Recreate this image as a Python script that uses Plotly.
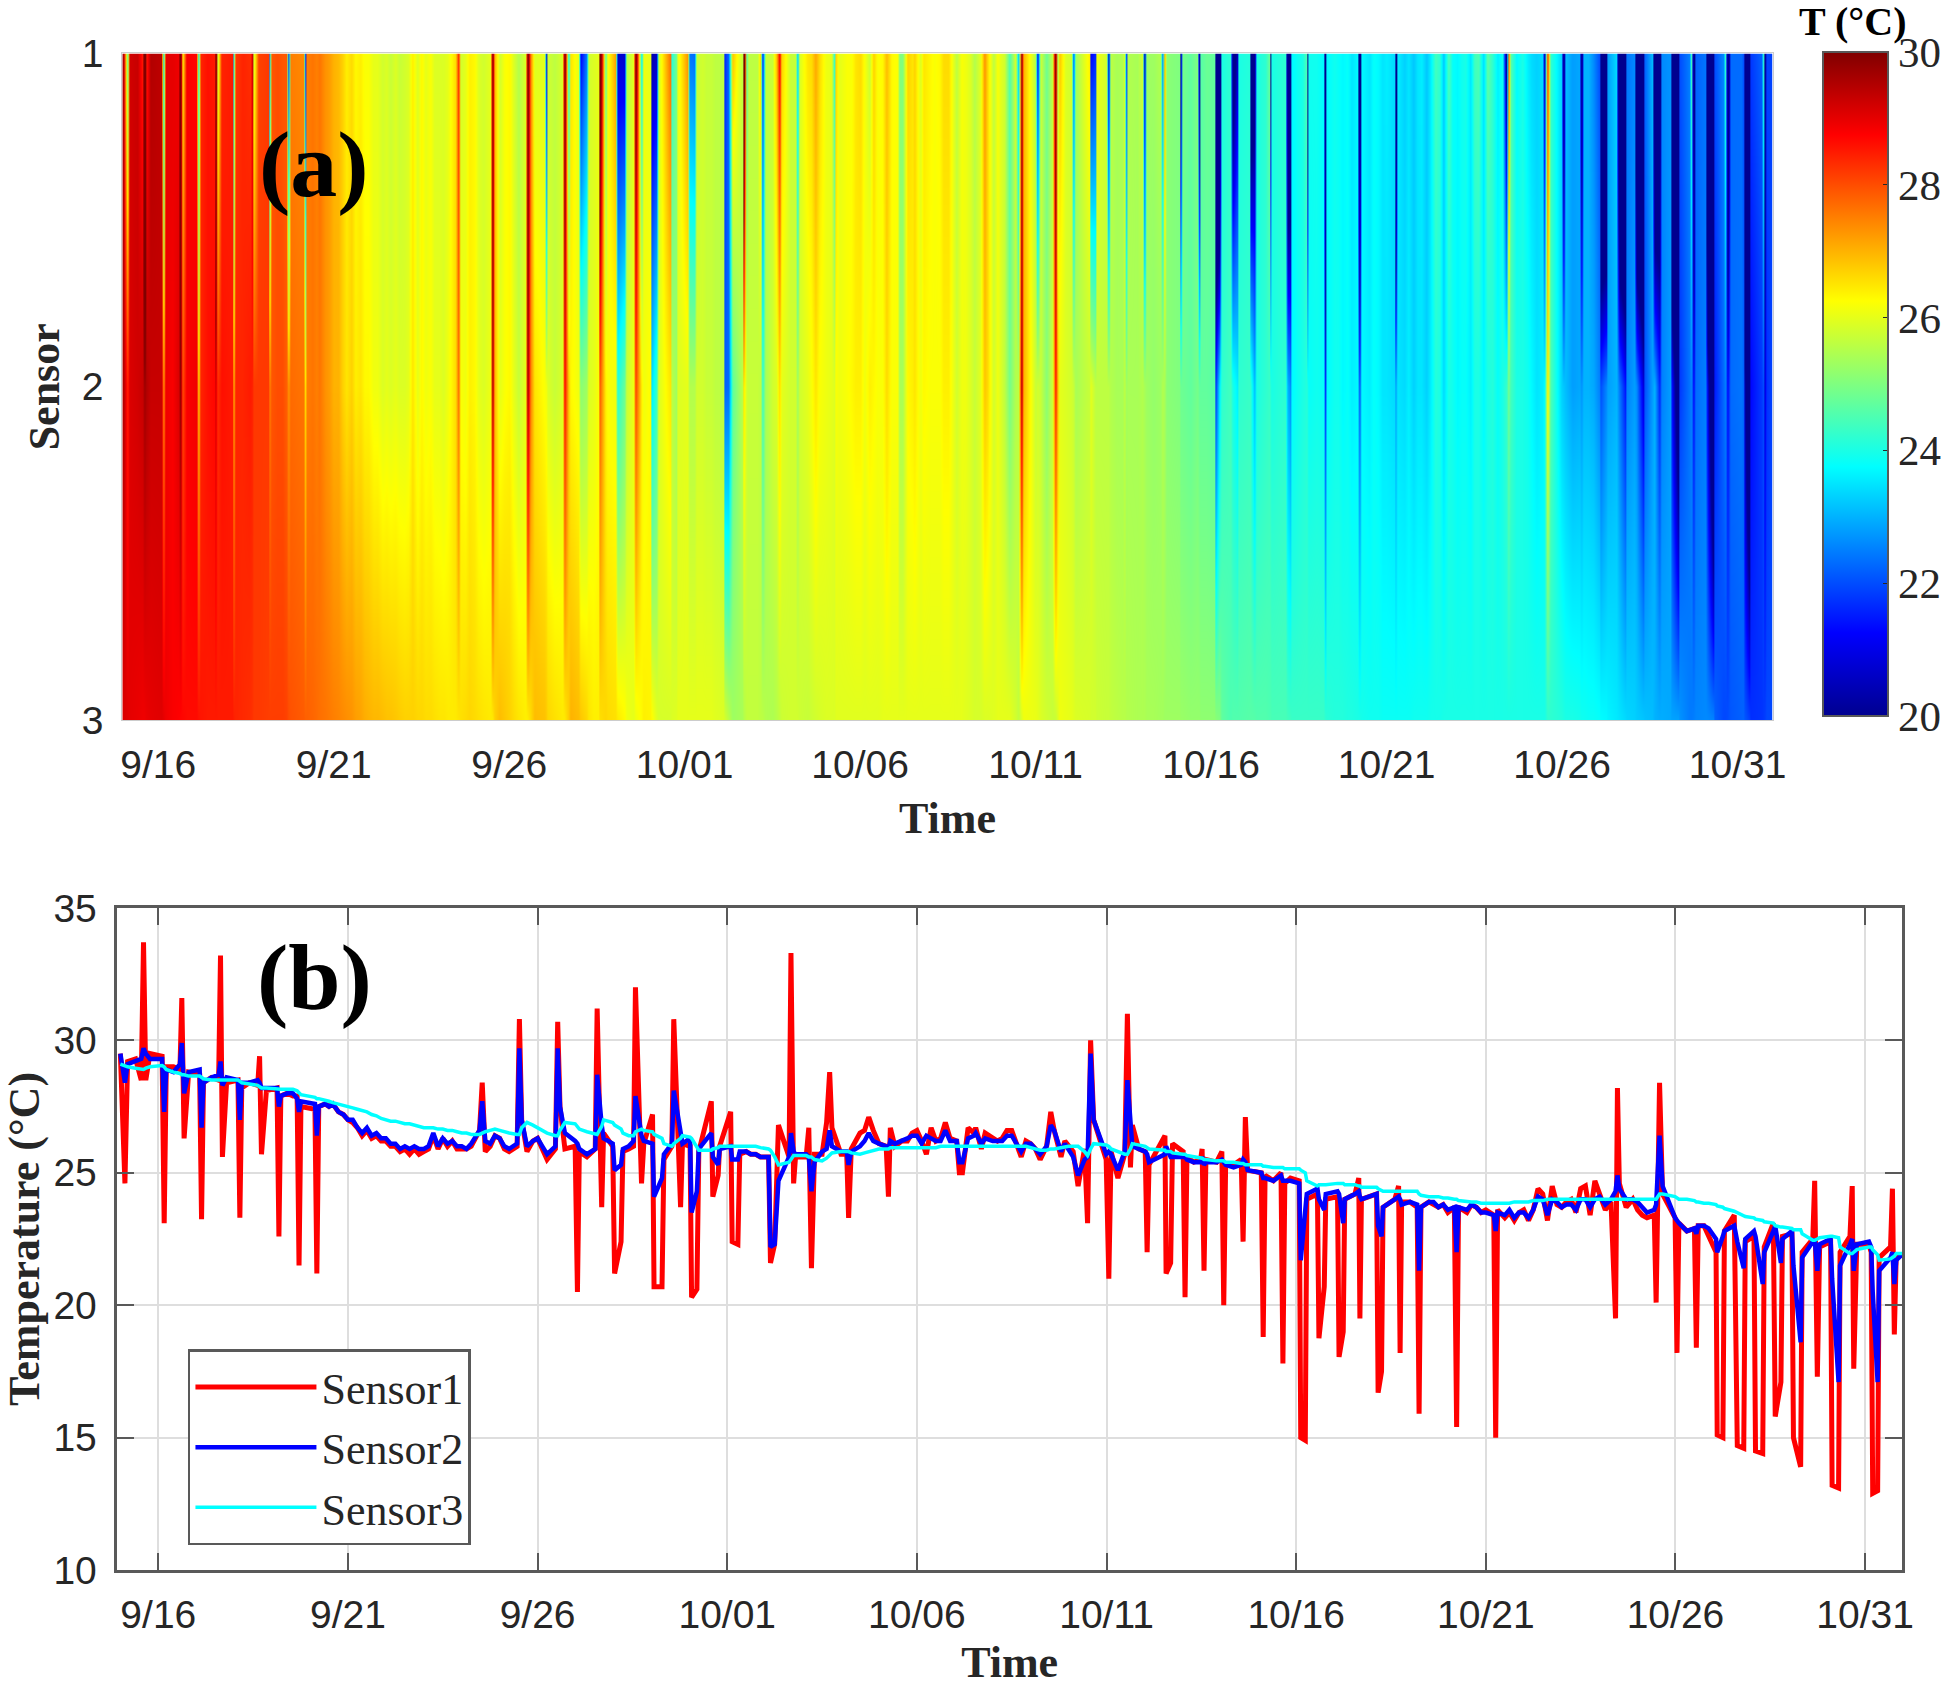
import pandas as pd
import plotly.graph_objects as go

# reading times in days after 9/15 00:00, one line of 8 per day, packed around the dips and spikes
time_days = [
    0.00, 0.12, 0.19, 0.40, 0.55, 0.61, 0.67, 0.78,
    1.10, 1.155, 1.21, 1.40, 1.57, 1.62, 1.68, 1.80,
    2.09, 2.14, 2.19, 2.40, 2.59, 2.64, 2.69, 2.80,
    3.10, 3.15, 3.20, 3.40, 3.62, 3.67, 3.72, 3.85,
    4.13, 4.18, 4.23, 4.40, 4.55, 4.66, 4.71, 4.76,
    5.13, 5.18, 5.23, 5.40, 5.50, 5.60, 5.75, 5.88,
    6.00, 6.125, 6.25, 6.375, 6.50, 6.625, 6.75, 6.875,
    7.00, 7.125, 7.25, 7.375, 7.50, 7.625, 7.75, 7.875,
    8.00, 8.125, 8.25, 8.375, 8.50, 8.625, 8.75, 8.875,
    9.00, 9.125, 9.25, 9.47, 9.54, 9.62, 9.75, 9.875,
    10.00, 10.125, 10.25, 10.46, 10.52, 10.58, 10.72, 10.875,
    11.00, 11.125, 11.25, 11.47, 11.53, 11.59, 11.72, 11.99,
    12.05, 12.10, 12.30, 12.52, 12.57, 12.69, 12.74, 12.98,
    13.03, 13.20, 13.25, 13.40, 13.53, 13.58, 13.74, 13.80,
    14.03, 14.07, 14.28, 14.33, 14.54, 14.59, 14.77, 14.82,
    15.02, 15.06, 15.20, 15.25, 15.58, 15.62, 15.76, 15.80,
    16.09, 16.13, 16.28, 16.33, 16.50, 16.62, 16.75, 16.875,
    17.09, 17.14, 17.25, 17.35, 17.63, 17.68, 17.75, 17.80,
    18.08, 18.15, 18.22, 18.30, 18.50, 18.62, 18.70, 18.76,
    19.00, 19.15, 19.20, 19.27, 19.50, 19.62, 19.73, 19.85,
    20.00, 20.19, 20.25, 20.30, 20.42, 20.60, 20.75, 20.875,
    21.00, 21.125, 21.25, 21.375, 21.50, 21.625, 21.75, 21.875,
    22.05, 22.12, 22.20, 22.35, 22.50, 22.55, 22.70, 22.80,
    23.00, 23.125, 23.25, 23.375, 23.50, 23.625, 23.75, 23.875,
    24.00, 24.125, 24.25, 24.42, 24.53, 24.62, 24.80, 24.90,
    25.00, 25.12, 25.25, 25.42, 25.50, 25.58, 25.66, 25.99,
    26.06, 26.12, 26.30, 26.48, 26.55, 26.63, 26.68, 26.85,
    27.02, 27.07, 27.12, 27.54, 27.57, 27.69, 27.74, 28.02,
    28.07, 28.12, 28.30, 28.48, 28.52, 28.57, 28.62, 28.90,
    29.04, 29.09, 29.14, 29.35, 29.55, 29.60, 29.66, 29.72,
    30.08, 30.13, 30.18, 30.40, 30.60, 30.65, 30.70, 30.85,
    31.08, 31.12, 31.24, 31.28, 31.56, 31.60, 31.74, 31.78,
    32.09, 32.13, 32.24, 32.28, 32.55, 32.65, 32.68, 32.72,
    33.12, 33.16, 33.25, 33.29, 33.60, 33.70, 33.74, 33.78,
    34.00, 34.19, 34.24, 34.29, 34.50, 34.62, 34.75, 34.875,
    35.00, 35.17, 35.23, 35.28, 35.50, 35.62, 35.75, 35.875,
    36.00, 36.21, 36.26, 36.31, 36.50, 36.62, 36.75, 36.875,
    37.00, 37.125, 37.25, 37.375, 37.50, 37.625, 37.75, 37.875,
    38.00, 38.125, 38.25, 38.375, 38.50, 38.625, 38.75, 38.875,
    39.00, 39.15, 39.30, 39.42, 39.47, 39.52, 39.70, 39.875,
    40.00, 40.125, 40.25, 40.44, 40.49, 40.58, 40.66, 40.99,
    41.04, 41.09, 41.30, 41.50, 41.55, 41.60, 41.75, 41.875,
    42.07, 42.10, 42.25, 42.29, 42.55, 42.63, 42.80, 42.84,
    43.07, 43.11, 43.30, 43.34, 43.58, 43.63, 43.78, 43.82,
    44.07, 44.11, 44.30, 44.34, 44.62, 44.67, 44.74, 44.80,
    45.09, 45.13, 45.30, 45.34, 45.60, 45.66, 45.70, 45.78,
    46.10, 46.16, 46.20, 46.33, 46.37, 46.67, 46.72, 46.77, 46.82,
    47.00,
]

sensor1 = [
    29.5, 24.6, 29.2, 29.3, 28.5, 33.7, 28.5, 29.5,
    29.4, 23.1, 29.0, 29.0, 28.9, 31.6, 26.3, 28.8,
    28.7, 23.25, 28.4, 28.6, 28.5, 33.2, 25.6, 28.4,
    28.5, 23.3, 28.2, 28.4, 28.3, 29.4, 25.7, 28.1,
    28.2, 22.6, 27.9, 28.0, 27.9, 27.9, 21.5, 27.5,
    27.4, 21.2, 27.5, 27.6, 27.5, 27.6, 27.3, 27.2,
    27.0, 26.9, 26.7, 26.4, 26.6, 26.3, 26.4, 26.2,
    26.2, 26.0, 26.0, 25.8, 25.9, 25.7, 25.9, 25.7,
    25.8, 25.9, 26.4, 25.9, 26.3, 26.0, 26.2, 25.9,
    25.9, 25.9, 26.0, 26.6, 28.4, 25.8, 26.0, 26.4,
    26.3, 25.9, 25.8, 26.0, 30.8, 27.0, 25.8, 26.2,
    26.3, 25.9, 25.5, 25.9, 30.7, 27.5, 25.9, 26.0,
    20.5, 25.8, 25.6, 25.9, 31.2, 23.7, 26.5, 26.0,
    21.2, 22.4, 25.8, 25.9, 26.0, 32.0, 24.6, 26.1,
    27.2, 20.7, 20.7, 25.5, 26.0, 30.8, 23.7, 26.1,
    26.0, 20.3, 20.6, 25.8, 27.7, 24.1, 24.9, 26.0,
    27.3, 22.4, 22.3, 25.7, 25.8, 25.7, 25.7, 25.6,
    25.6, 21.6, 22.3, 26.8, 25.6, 33.3, 24.6, 25.6,
    25.6, 26.7, 21.4, 25.7, 25.7, 26.9, 28.8, 26.7,
    25.7, 25.7, 23.3, 25.9, 26.5, 26.6, 27.1, 26.6,
    26.1, 26.0, 24.1, 26.7, 26.0, 26.2, 26.2, 26.5,
    26.6, 26.2, 25.7, 26.7, 26.2, 26.3, 26.9, 26.3,
    26.2, 25.0, 25.0, 26.7, 26.5, 26.7, 25.9, 26.5,
    26.3, 26.2, 26.3, 26.6, 26.6, 26.1, 25.6, 26.2,
    26.1, 25.9, 25.5, 26.0, 27.3, 26.6, 25.6, 26.2,
    26.0, 25.8, 24.5, 25.9, 23.1, 30.0, 27.0, 25.5,
    21.0, 25.8, 24.8, 25.7, 31.0, 25.2, 26.8, 25.9,
    25.8, 22.0, 25.3, 26.4, 21.2, 21.6, 26.1, 25.8,
    20.3, 25.6, 25.4, 25.5, 25.9, 21.3, 25.5, 25.4,
    25.8, 20.0, 25.3, 25.3, 25.5, 22.4, 27.1, 25.1,
    25.0, 18.8, 24.9, 24.7, 25.0, 17.8, 24.6, 24.8,
    24.7, 15.0, 14.9, 24.0, 24.2, 18.75, 20.7, 24.0,
    24.1, 18.05, 19.0, 24.0, 24.2, 24.8, 19.5, 24.0,
    24.2, 16.7, 17.5, 23.7, 24.0, 24.5, 18.2, 23.9,
    23.9, 23.7, 15.9, 23.7, 23.9, 23.8, 23.7, 23.8,
    23.5, 23.7, 15.4, 23.7, 23.5, 23.8, 23.7, 23.5,
    23.6, 23.4, 15.0, 23.6, 23.3, 23.5, 23.2, 23.5,
    23.6, 23.2, 23.6, 24.4, 24.2, 23.2, 24.5, 23.8,
    23.7, 23.9, 24.0, 23.5, 24.4, 24.5, 23.4, 24.7,
    24.2, 23.6, 23.9, 19.5, 28.2, 24.6, 23.7, 24.0,
    23.6, 23.4, 23.3, 23.4, 20.1, 28.4, 24.2, 23.3,
    18.2, 23.1, 22.8, 22.9, 18.4, 23.0, 23.0, 22.6,
    22.0, 15.1, 15.0, 22.8, 23.4, 14.7, 14.6, 22.4,
    22.6, 14.5, 14.4, 22.2, 23.1, 15.8, 17.1, 22.6,
    22.7, 15.0, 13.9, 22.0, 22.5, 24.7, 17.3, 22.2,
    22.4, 13.2, 13.1, 22.0, 22.6, 24.5, 17.6, 22.3,
    22.3, 22.0, 12.9, 13.0, 21.8, 22.2, 24.4, 18.9, 21.9,
    21.9,
]

sensor2 = [
    29.5, 28.4, 29.1, 29.2, 29.3, 29.7, 29.5, 29.3,
    29.3, 27.3, 28.9, 28.8, 29.1, 29.9, 28.0, 28.8,
    28.9, 26.7, 28.4, 28.6, 28.7, 29.2, 28.3, 28.6,
    28.5, 27.0, 28.4, 28.4, 28.5, 28.4, 28.2, 28.2,
    28.2, 27.5, 27.9, 28.0, 28.0, 27.8, 27.3, 27.7,
    27.6, 26.4, 27.5, 27.6, 27.5, 27.6, 27.3, 27.2,
    27.0, 27.0, 26.7, 26.5, 26.7, 26.4, 26.5, 26.3,
    26.3, 26.1, 26.1, 25.9, 26.0, 25.9, 26.0, 25.9,
    25.9, 26.0, 26.5, 26.0, 26.3, 26.1, 26.2, 26.0,
    26.0, 25.9, 26.1, 26.6, 27.7, 26.2, 26.1, 26.4,
    26.3, 26.0, 25.9, 26.1, 29.7, 27.0, 26.0, 26.2,
    26.3, 26.0, 25.7, 26.0, 29.7, 27.5, 26.5, 26.2,
    26.1, 25.9, 25.7, 25.9, 28.7, 26.8, 26.3, 26.1,
    25.1, 25.3, 25.9, 26.0, 26.2, 27.9, 26.4, 26.2,
    26.1, 24.1, 24.8, 25.7, 26.1, 28.1, 26.4, 26.1,
    26.3, 23.5, 24.3, 25.9, 26.5, 25.6, 25.3, 25.9,
    26.0, 25.5, 25.5, 25.8, 25.8, 25.7, 25.7, 25.6,
    25.6, 22.2, 22.3, 24.7, 25.6, 26.5, 25.8, 25.7,
    25.7, 25.6, 24.3, 25.4, 25.8, 25.9, 26.6, 26.0,
    25.8, 25.8, 25.3, 25.8, 26.0, 26.2, 26.5, 26.2,
    26.1, 26.0, 25.9, 26.2, 26.1, 26.2, 26.3, 26.4,
    26.4, 26.1, 26.4, 26.3, 26.2, 26.2, 26.6, 26.2,
    26.2, 25.4, 25.4, 26.3, 26.4, 26.5, 26.1, 26.3,
    26.2, 26.2, 26.2, 26.4, 26.4, 26.1, 25.8, 26.1,
    26.1, 25.9, 25.7, 26.0, 26.8, 26.6, 25.8, 26.1,
    25.9, 25.6, 24.9, 25.5, 25.6, 29.5, 27.0, 25.7,
    25.8, 25.7, 25.1, 25.8, 28.5, 27.0, 26.0, 25.9,
    25.8, 25.7, 25.4, 25.7, 26.0, 25.6, 25.6, 25.6,
    25.6, 25.5, 25.4, 25.4, 25.6, 25.3, 25.4, 25.4,
    25.5, 25.4, 25.3, 25.2, 25.3, 25.5, 25.4, 25.1,
    25.0, 24.8, 24.8, 24.7, 24.9, 24.7, 24.7, 24.7,
    24.6, 21.7, 23.6, 24.2, 24.4, 24.0, 23.6, 24.2,
    24.3, 24.2, 23.1, 24.0, 24.2, 24.3, 24.1, 24.0,
    24.2, 23.0, 22.6, 23.7, 24.0, 24.1, 24.0, 23.8,
    23.9, 23.8, 21.3, 23.7, 23.9, 23.9, 23.7, 23.8,
    23.6, 23.7, 22.0, 23.7, 23.6, 23.8, 23.7, 23.5,
    23.5, 23.4, 22.8, 23.5, 23.4, 23.6, 23.3, 23.5,
    23.5, 23.3, 23.6, 24.1, 24.0, 23.4, 24.0, 23.9,
    23.7, 23.8, 23.8, 23.6, 24.0, 24.0, 23.7, 24.0,
    24.1, 23.8, 24.0, 24.3, 24.9, 24.4, 24.0, 24.0,
    23.9, 23.7, 23.5, 23.6, 23.8, 26.4, 24.5, 23.3,
    23.2, 23.1, 22.8, 22.9, 22.7, 23.0, 23.0, 22.9,
    22.5, 22.0, 22.6, 22.8, 23.0, 22.4, 21.4, 22.5,
    22.8, 22.6, 20.8, 22.0, 22.8, 23.0, 21.6, 22.5,
    22.8, 21.5, 18.6, 21.8, 22.4, 22.5, 21.3, 22.3,
    22.5, 21.0, 17.1, 21.5, 22.3, 22.5, 21.3, 22.3,
    22.4, 22.2, 20.5, 17.1, 21.3, 21.8, 22.0, 20.8, 21.7,
    21.95,
]

sensor3 = [
    29.1, 29.05, 29.0, 28.95, 28.9, 28.9, 28.95, 29.0,
    29.05, 29.0, 28.9, 28.8, 28.75, 28.7, 28.7, 28.65,
    28.65, 28.6, 28.55, 28.5, 28.5, 28.5, 28.5, 28.5,
    28.5, 28.45, 28.4, 28.35, 28.3, 28.25, 28.2, 28.2,
    28.15, 28.15, 28.15, 28.15, 28.15, 28.1, 28.0, 27.95,
    27.85, 27.8, 27.8, 27.75, 27.7, 27.65, 27.6, 27.55,
    27.5, 27.45, 27.4, 27.35, 27.3, 27.2, 27.15, 27.05,
    27.0, 26.95, 26.95, 26.9, 26.85, 26.85, 26.8, 26.75,
    26.7, 26.7, 26.7, 26.65, 26.65, 26.6, 26.6, 26.55,
    26.5, 26.5, 26.45, 26.45, 26.5, 26.55, 26.6, 26.65,
    26.6, 26.55, 26.5, 26.45, 26.45, 26.7, 26.9, 26.8,
    26.7, 26.6, 26.5, 26.4, 26.4, 26.6, 26.9, 26.85,
    26.75, 26.65, 26.55, 26.45, 26.45, 26.75, 27.0, 26.9,
    26.8, 26.65, 26.5, 26.4, 26.4, 26.55, 26.65, 26.6,
    26.55, 26.45, 26.3, 26.1, 26.0, 26.1, 26.3, 26.4,
    26.35, 26.3, 25.95, 25.85, 25.85, 25.9, 25.95, 26.0,
    26.0, 26.0, 26.0, 26.0, 26.0, 26.0, 26.0, 25.95,
    25.9, 25.85, 25.6, 25.3, 25.4, 25.5, 25.65, 25.65,
    25.65, 25.6, 25.6, 25.5, 25.45, 25.55, 25.65, 25.75,
    25.8, 25.8, 25.8, 25.75, 25.7, 25.75, 25.8, 25.85,
    25.9, 25.9, 25.9, 25.95, 25.95, 25.95, 25.95, 25.95,
    25.95, 25.95, 25.95, 25.95, 25.95, 26.0, 26.0, 26.0,
    26.0, 26.0, 26.0, 26.0, 26.0, 26.0, 26.0, 26.0,
    26.0, 26.0, 26.0, 26.0, 26.0, 26.0, 26.0, 26.0,
    25.95, 25.9, 25.85, 25.85, 25.9, 25.9, 25.95, 26.0,
    26.0, 26.0, 26.0, 25.8, 25.65, 25.9, 26.1, 26.05,
    26.0, 25.9, 25.8, 25.7, 25.7, 25.9, 26.1, 26.05,
    26.0, 25.95, 25.9, 25.85, 25.8, 25.8, 25.75, 25.7,
    25.7, 25.65, 25.6, 25.55, 25.55, 25.5, 25.5, 25.45,
    25.45, 25.45, 25.4, 25.4, 25.35, 25.35, 25.3, 25.3,
    25.3, 25.25, 25.25, 25.2, 25.2, 25.2, 25.15, 25.15,
    25.15, 25.1, 25.0, 24.7, 24.5, 24.55, 24.55, 24.55,
    24.6, 24.6, 24.6, 24.55, 24.55, 24.5, 24.5, 24.45,
    24.45, 24.4, 24.35, 24.3, 24.3, 24.3, 24.3, 24.3,
    24.3, 24.3, 24.2, 24.15, 24.1, 24.1, 24.1, 24.05,
    24.05, 24.0, 24.0, 23.95, 23.9, 23.9, 23.9, 23.85,
    23.85, 23.85, 23.85, 23.85, 23.85, 23.85, 23.9, 23.9,
    23.9, 23.9, 23.95, 23.95, 23.95, 24.0, 24.0, 24.0,
    24.0, 24.0, 24.0, 24.0, 24.0, 24.0, 24.0, 24.0,
    24.0, 24.0, 24.0, 24.0, 24.0, 24.0, 24.0, 24.0,
    24.0, 24.0, 24.0, 24.0, 24.0, 24.2, 24.2, 24.1,
    24.05, 24.0, 24.0, 23.95, 23.9, 23.9, 23.85, 23.85,
    23.8, 23.75, 23.7, 23.65, 23.55, 23.5, 23.4, 23.35,
    23.3, 23.25, 23.2, 23.15, 23.1, 23.0, 22.95, 22.95,
    22.9, 22.85, 22.85, 22.7, 22.45, 22.45, 22.5, 22.55,
    22.6, 22.6, 22.55, 22.2, 21.95, 21.95, 22.0, 22.1,
    22.2, 22.2, 22.1, 21.9, 21.7, 21.75, 21.8, 21.85, 21.95,
    21.95,
]

tick_dates = ["2018-09-16", "2018-09-21", "2018-09-26", "2018-10-01", "2018-10-06", "2018-10-11",
              "2018-10-16", "2018-10-21", "2018-10-26", "2018-10-31"]
tick_labels = ["9/16", "9/21", "9/26", "10/01", "10/06", "10/11", "10/16", "10/21", "10/26", "10/31"]
sensor_rows = [1, 2, 3]
colorbar_ticks = [20, 22, 24, 26, 28, 30]
temp_ticks = [10, 15, 20, 25, 30, 35]

time_stamps = pd.Timestamp("2018-09-15") + pd.to_timedelta(time_days, unit="D")

W, H = 1949, 1687
# big enough that the colorbar does not push the margins
M_L, M_R, M_T, M_B = 0, 41, 40, 40
SANS = "Liberation Sans"
SERIF = "Liberation Serif"
INK = "#262626"
FRAME = "#595959"


def px(x):
    return (x - M_L) / (W - M_L - M_R)


def py(y):
    return 1 - (y - M_T) / (H - M_T - M_B)


# MATLAB jet
jet = [[0, "#00008f"], [0.125, "#0000ff"], [0.375, "#00ffff"], [0.625, "#ffff00"], [0.875, "#ff0000"], [1, "#800000"]]

fig = go.Figure()

# (a) heat map of the three sensors
fig.add_trace(go.Heatmap(x=time_stamps, y=sensor_rows, z=[sensor1, sensor2, sensor3],
                         zmin=20, zmax=30, zsmooth="best", colorscale=jet,
                         colorbar=dict(lenmode="pixels", len=664, thicknessmode="pixels", thickness=65,
                                       x=px(1828.5), xanchor="left", xpad=0,
                                       y=py(52), yanchor="top", ypad=0,
                                       tickvals=colorbar_ticks, ticks="inside", ticklen=6, tickcolor=INK,
                                       outlinecolor=FRAME, outlinewidth=2,
                                       tickfont=dict(family=SERIF, size=43, color=INK)),
                         hoverinfo="skip"))

# (b) the same readings as lines
fig.add_trace(go.Scatter(x=time_stamps, y=sensor1, name="Sensor1", mode="lines", xaxis="x2", yaxis="y2",
                         line=dict(color="#ff0000", width=5)))
fig.add_trace(go.Scatter(x=time_stamps, y=sensor2, name="Sensor2", mode="lines", xaxis="x2", yaxis="y2",
                         line=dict(color="#0000ff", width=4.5)))
fig.add_trace(go.Scatter(x=time_stamps, y=sensor3, name="Sensor3", mode="lines", xaxis="x2", yaxis="y2",
                         line=dict(color="#00ffff", width=3.5)))

fig.update_layout(
    width=W, height=H, autosize=False,
    margin=dict(l=M_L, r=M_R, t=M_T, b=M_B),
    paper_bgcolor="white", plot_bgcolor="white",
    xaxis=dict(domain=[px(118), px(1778)], anchor="y",
               range=["2018-09-14 23:30", "2018-11-01 00:00"],
               tickmode="array", tickvals=tick_dates, ticktext=tick_labels, ticks="",
               ticklabelstandoff=10,
               tickfont=dict(family=SANS, size=39, color=INK),
               showline=True, linecolor="#cccccc", linewidth=1, mirror=True, showgrid=False,
               title=dict(text="<b>Time</b>", font=dict(family=SERIF, size=44, color=INK), standoff=17)),
    yaxis=dict(domain=[py(721), py(53.5)], anchor="x",
               range=[3, 1], tickmode="array", tickvals=sensor_rows, ticks="",
               ticklabelstandoff=10,
               tickfont=dict(family=SANS, size=39, color=INK),
               showline=True, linecolor="#cccccc", linewidth=1, mirror=True, showgrid=False,
               title=dict(text="<b>Sensor</b>", font=dict(family=SERIF, size=44, color=INK), standoff=8)),
    xaxis2=dict(domain=[px(113), px(1908)], anchor="y2",
                range=["2018-09-14 22:05", "2018-10-31 23:20"],
                tickmode="array", tickvals=tick_dates, ticktext=tick_labels,
                ticks="inside", ticklen=17, tickwidth=2, tickcolor=FRAME,
                ticklabelstandoff=8,
                tickfont=dict(family=SANS, size=39, color=INK),
                showline=True, linecolor=FRAME, linewidth=2.5, mirror="ticks",
                showgrid=True, gridcolor="#dedede", gridwidth=2,
                title=dict(text="<b>Time</b>", font=dict(family=SERIF, size=44, color=INK), standoff=21)),
    yaxis2=dict(domain=[py(1572), py(909)], anchor="x2",
                range=[10, 35], tickmode="array", tickvals=temp_ticks,
                ticks="inside", ticklen=17, tickwidth=2, tickcolor=FRAME,
                ticklabelstandoff=10,
                tickfont=dict(family=SANS, size=39, color=INK),
                showline=True, linecolor=FRAME, linewidth=2.5, mirror="ticks",
                showgrid=True, gridcolor="#dedede", gridwidth=2, zeroline=False,
                title=dict(text="<b>Temperature (°C)</b>", font=dict(family=SERIF, size=44, color=INK), standoff=23)),
    legend=dict(x=px(184), xanchor="left", y=py(1351), yanchor="top",
                bgcolor="white", bordercolor=FRAME, borderwidth=2.5,
                font=dict(family=SERIF, size=44, color=INK), itemwidth=121,
                entrywidth=193, entrywidthmode="pixels"),
    annotations=[
        dict(text="<b>(a)</b>", x=px(311), y=py(164), xref="paper", yref="paper", showarrow=False,
             xanchor="center", yanchor="middle", font=dict(family=SERIF, size=94, color="black")),
        dict(text="<b>(b)</b>", x=px(311), y=py(978), xref="paper", yref="paper", showarrow=False,
             xanchor="center", yanchor="middle", font=dict(family=SERIF, size=94, color="black")),
        dict(text="<b>T (°C)</b>", x=px(1858), y=py(21), xref="paper", yref="paper", showarrow=False,
             xanchor="center", yanchor="middle", font=dict(family=SERIF, size=40, color="black")),
    ],
)

fig.write_html("out.html", config={"displayModeBar": False}, post_script="document.body.style.margin='0';")
